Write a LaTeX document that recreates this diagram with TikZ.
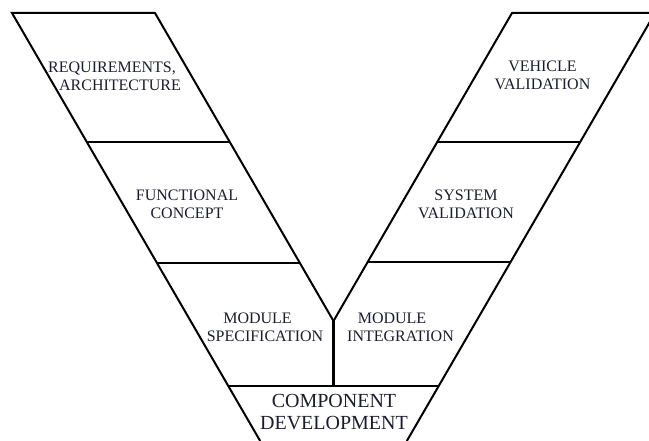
\documentclass[tikz,border=0pt]{standalone}
\usepackage{fontspec}
\setmainfont{Liberation Serif}
\definecolor{vtext}{RGB}{28,28,48}

\begin{document}
\begin{tikzpicture}[x=1pt, y=-1pt,
        stage/.style={inner sep=0pt, align=center, text=vtext, font=\fontsize{16}{18.4}\selectfont},
        arm/.style={line width=2pt, line join=miter},
        divider/.style={line width=2.9pt}]
            \useasboundingbox (0, 0) rectangle (649, 441);
            \clip (0, 0) rectangle (649, 441);
            %\draw[lightgray] (0, 0) grid[step=50] (649, 441);
            \draw[arm] (260.2, 441) -- (12, 13) -- (155, 13) -- (333.5, 321);
            \draw[arm] (406.8, 441) -- (655, 13) -- (512, 13) -- (333.5, 321);
            \draw[divider] (86.8, 142) -- (229.8, 142);
            \draw[divider] (157, 263) -- (300, 263);
            \draw[divider] (437.2, 142) -- (580.2, 142);
            \draw[divider] (367.6, 262) -- (510.6, 262);
            \draw[divider] (228.3, 386) -- (438.7, 386);
            \draw[divider] (333.5, 321) -- (333.5, 386);
            \node[stage] (req) at (112, 76) {REQUIREMENTS,\\\hspace*{16pt}ARCHITECTURE};
            \node[stage] (func) at (187, 204.5) {FUNCTIONAL\\CONCEPT};
            \node[stage] (modspec) at (265, 327) {MODULE\hspace*{15pt}\\SPECIFICATION};
            \node[stage] (modint) at (400.5, 327) {MODULE\hspace*{17pt}\\INTEGRATION};
            \node[stage] (sysval) at (466, 204.5) {SYSTEM\\VALIDATION};
            \node[stage] (vehval) at (542.5, 75.5) {VEHICLE\\VALIDATION};
            \node[stage, font=\fontsize{20}{22}\selectfont] (comp) at (334, 412.4) {COMPONENT\\DEVELOPMENT};
        \end{tikzpicture}
\end{document}
